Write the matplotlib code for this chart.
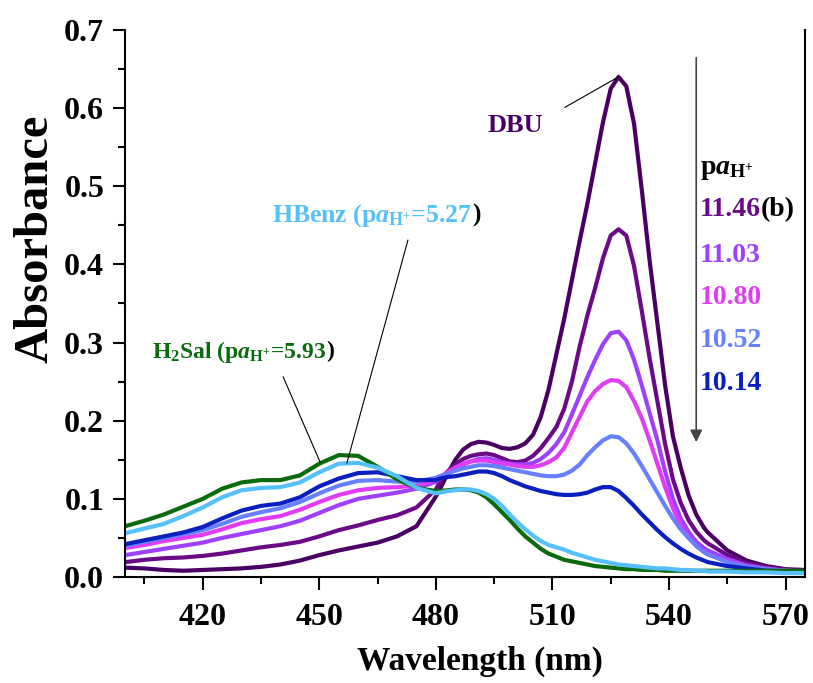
import numpy as np
import matplotlib.pyplot as plt
from matplotlib.ticker import MultipleLocator

plt.rcParams['font.family'] = 'Liberation Serif'
plt.rcParams['font.weight'] = 'bold'
plt.rcParams['mathtext.fontset'] = 'custom'
plt.rcParams['mathtext.rm'] = 'Liberation Serif:bold'
plt.rcParams['mathtext.it'] = 'Liberation Serif:italic:bold'
plt.rcParams['mathtext.bf'] = 'Liberation Serif:bold'

# wavelength grid (nm): coarse on the blue side, finer through the peaks
wl = list(range(400, 481, 5)) + list(range(481, 550, 2)) + list(range(550, 576, 5))

# absorbance (400-480 / 481-549 / 550-575)
a_dbu = ([0.012, 0.011, 0.009, 0.008, 0.009, 0.010, 0.011, 0.013, 0.016, 0.021, 0.028,
          0.034, 0.039, 0.044, 0.052, 0.065, 0.103] +
         [0.112, 0.132, 0.150, 0.163, 0.170, 0.173, 0.172, 0.169, 0.165, 0.164,
          0.166, 0.171, 0.182, 0.205, 0.240, 0.285, 0.330, 0.380, 0.430, 0.478,
          0.530, 0.582, 0.625, 0.640, 0.628, 0.580, 0.495, 0.405, 0.325, 0.245,
          0.180, 0.140, 0.105, 0.080, 0.063] +
         [0.057, 0.034, 0.021, 0.014, 0.010, 0.009])
a_1146 = ([0.019, 0.022, 0.024, 0.025, 0.027, 0.030, 0.034, 0.038, 0.041, 0.045, 0.052,
           0.060, 0.066, 0.073, 0.079, 0.089, 0.112] +
          [0.122, 0.135, 0.144, 0.151, 0.155, 0.157, 0.158, 0.156, 0.152, 0.148,
           0.147, 0.149, 0.155, 0.165, 0.178, 0.192, 0.215, 0.250, 0.295, 0.335,
           0.370, 0.408, 0.437, 0.445, 0.437, 0.398, 0.340, 0.280, 0.225, 0.170,
           0.125, 0.095, 0.073, 0.058, 0.047] +
          [0.043, 0.028, 0.018, 0.012, 0.009, 0.008])
a_1103 = ([0.028, 0.032, 0.036, 0.040, 0.044, 0.050, 0.055, 0.060, 0.065, 0.072, 0.082,
           0.092, 0.100, 0.104, 0.108, 0.113, 0.122] +
          [0.126, 0.132, 0.138, 0.144, 0.148, 0.151, 0.152, 0.150, 0.147, 0.145,
           0.144, 0.144, 0.146, 0.151, 0.159, 0.170, 0.185, 0.208, 0.232, 0.256,
           0.278, 0.298, 0.312, 0.314, 0.303, 0.278, 0.245, 0.210, 0.175, 0.135,
           0.100, 0.075, 0.058, 0.045, 0.037] +
          [0.034, 0.023, 0.015, 0.011, 0.008, 0.007])
a_1080 = ([0.037, 0.041, 0.046, 0.050, 0.054, 0.061, 0.069, 0.074, 0.078, 0.086, 0.096,
           0.105, 0.111, 0.114, 0.115, 0.117, 0.124] +
          [0.128, 0.134, 0.140, 0.145, 0.148, 0.149, 0.149, 0.147, 0.145, 0.144,
           0.142, 0.141, 0.141, 0.143, 0.147, 0.153, 0.165, 0.185, 0.205, 0.225,
           0.238, 0.247, 0.252, 0.251, 0.243, 0.225, 0.203, 0.175, 0.145, 0.115,
           0.088, 0.066, 0.051, 0.040, 0.032] +
          [0.029, 0.020, 0.013, 0.010, 0.008, 0.007])
a_1052 = ([0.040, 0.045, 0.050, 0.055, 0.060, 0.068, 0.077, 0.083, 0.088, 0.096, 0.107,
           0.117, 0.123, 0.124, 0.122, 0.122, 0.127] +
          [0.129, 0.132, 0.136, 0.139, 0.141, 0.143, 0.143, 0.142, 0.140, 0.138,
           0.136, 0.134, 0.132, 0.130, 0.129, 0.129, 0.131, 0.136, 0.144, 0.156,
           0.166, 0.175, 0.180, 0.179, 0.171, 0.158, 0.142, 0.125, 0.108, 0.091,
           0.075, 0.061, 0.050, 0.040, 0.032] +
          [0.029, 0.019, 0.013, 0.010, 0.008, 0.007])
a_1014 = ([0.042, 0.047, 0.052, 0.057, 0.064, 0.075, 0.085, 0.091, 0.094, 0.102, 0.116,
           0.126, 0.133, 0.134, 0.129, 0.124, 0.124] +
          [0.126, 0.128, 0.129, 0.131, 0.133, 0.135, 0.135, 0.133, 0.129, 0.124,
           0.120, 0.116, 0.113, 0.110, 0.108, 0.106, 0.105, 0.105, 0.106, 0.108,
           0.112, 0.115, 0.115, 0.110, 0.101, 0.091, 0.080, 0.070, 0.060, 0.051,
           0.043, 0.036, 0.030, 0.025, 0.021] +
          [0.019, 0.014, 0.011, 0.008, 0.007, 0.006])
a_h2sal = ([0.065, 0.072, 0.080, 0.090, 0.100, 0.113, 0.121, 0.124, 0.124, 0.130, 0.145,
            0.156, 0.155, 0.141, 0.125, 0.114, 0.110] +
           [0.110, 0.111, 0.112, 0.112, 0.111, 0.108, 0.102, 0.093, 0.083, 0.073,
            0.062, 0.052, 0.044, 0.036, 0.030, 0.026, 0.022, 0.020, 0.018, 0.016,
            0.014, 0.013, 0.012, 0.011, 0.010, 0.010, 0.009, 0.009, 0.009, 0.008,
            0.008, 0.008, 0.008, 0.008, 0.008] +
           [0.008, 0.008, 0.008, 0.008, 0.008, 0.008])
a_hbenz = ([0.056, 0.062, 0.068, 0.078, 0.089, 0.102, 0.111, 0.114, 0.115, 0.121, 0.134,
            0.145, 0.146, 0.140, 0.129, 0.114, 0.107] +
           [0.108, 0.110, 0.111, 0.112, 0.112, 0.110, 0.106, 0.100, 0.091, 0.080,
            0.070, 0.061, 0.053, 0.046, 0.041, 0.038, 0.035, 0.031, 0.028, 0.025,
            0.022, 0.020, 0.018, 0.016, 0.015, 0.014, 0.013, 0.012, 0.011, 0.011,
            0.010, 0.009, 0.009, 0.008, 0.008] +
           [0.007, 0.007, 0.006, 0.006, 0.005, 0.005])

c_dbu = '#4a0063'
c_1146 = '#6a0a86'
c_1103 = '#a040ff'
c_1080 = '#e03cf5'
c_1052 = '#6680ff'
c_1014 = '#0a1fbf'
c_green = '#0b6a0b'
c_lblue = '#55c0fa'

fig = plt.figure(figsize=(8.13, 6.83), dpi=100)
ax = fig.add_axes([0.1538, 0.1552, 0.8364, 0.8009])

lw = 3
for a, c in [(a_dbu, c_dbu), (a_1146, c_1146), (a_1103, c_1103), (a_1080, c_1080),
             (a_1052, c_1052), (a_1014, c_1014), (a_h2sal, c_green), (a_hbenz, c_lblue)]:
    ax.plot(wl, a, color=c, lw=lw, solid_joinstyle='round', solid_capstyle='round')

ax.set_xlim(400, 575)
ax.set_ylim(0, 0.7)
ax.xaxis.set_major_locator(MultipleLocator(30))
ax.xaxis.set_minor_locator(MultipleLocator(15))
ax.yaxis.set_major_locator(MultipleLocator(0.1))
ax.yaxis.set_minor_locator(MultipleLocator(0.05))
ax.yaxis.set_major_formatter(plt.FormatStrFormatter('%.1f'))
ax.tick_params(which='major', direction='out', length=9, width=1.5, labelsize=23)
ax.tick_params(which='minor', direction='out', length=5, width=1.5)
ax.tick_params(axis='x', pad=10)
ax.tick_params(axis='y', pad=6)
ax.spines['top'].set_visible(False)
for s in ['left', 'bottom', 'right']:
    ax.spines[s].set_linewidth(1.5)

ax.set_xlabel('Wavelength (nm)', fontsize=24, fontweight='bold')
ax.set_ylabel('Absorbance', fontsize=35, fontweight='bold')
ax.xaxis.set_label_coords(0.522, -0.125)
ax.yaxis.set_label_coords(-0.1, 0.618)

# annotations
ax.text(500.4, 0.578, 'DBU', color=c_dbu, fontsize=19, ha='center', va='center')
ax.plot([513.2, 527], [0.601, 0.64], color='k', lw=0.8)

pa = r'p$a_{\mathrm{H^{+}}}$'
t1 = ax.text(437.8, 0.463, 'HBenz (' + pa + '=5.27 ', color=c_lblue, fontsize=18.5,
             ha='left', va='center')
ax.annotate(')', xy=(1, 0.5), xycoords=t1, color='k', fontsize=18.5, ha='left', va='center')
ax.plot([472.8, 457.1], [0.431, 0.146], color='k', lw=0.8)

t2 = ax.text(407, 0.288, r'H$_{\mathrm{2}}$Sal (' + pa + '=5.93', color=c_green, fontsize=17,
             ha='left', va='center')
ax.annotate(')', xy=(1, 0.5), xycoords=t2, color='k', fontsize=17, ha='left', va='center')
ax.plot([440.7, 450.2], [0.256, 0.147], color='k', lw=0.8)

# pH legend on the right
ax.text(548, 0.521, pa, color='k', fontsize=20, ha='left', va='center')
t3 = ax.text(548, 0.47, '11.46', color=c_1146, fontsize=20, ha='left', va='center')
ax.annotate('(b)', xy=(1, 0.5), xycoords=t3, color='k', fontsize=20, ha='left', va='center')
ax.text(548, 0.412, '11.03', color=c_1103, fontsize=20, ha='left', va='center')
ax.text(548, 0.358, '10.80', color=c_1080, fontsize=20, ha='left', va='center')
ax.text(548, 0.303, '10.52', color=c_1052, fontsize=20, ha='left', va='center')
ax.text(548, 0.248, '10.14', color=c_1014, fontsize=20, ha='left', va='center')

ax.annotate('', xy=(547, 0.169), xytext=(547, 0.668),
            arrowprops=dict(arrowstyle='-|>', color='#444444', lw=1.2,
                            mutation_scale=18))

fig.savefig('out.png', dpi=100)
